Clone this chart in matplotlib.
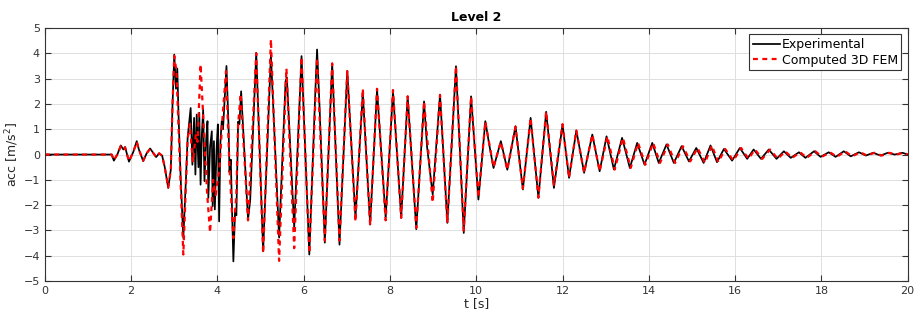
import matplotlib
matplotlib.use("Agg")
import matplotlib.pyplot as plt

# ---- Data (extrema of the time histories) ----
exp_t = [0.00, 1.55, 1.60, 1.68, 1.76, 1.82, 1.86, 1.95, 2.05, 2.13, 2.18, 2.28, 2.36, 2.44, 2.52,
         2.58, 2.65, 2.72, 2.78, 2.86, 2.92, 2.96, 3.00, 3.04, 3.07, 3.10, 3.15, 3.21, 3.27,
         3.31, 3.38, 3.42, 3.46, 3.49, 3.52, 3.56, 3.58, 3.61, 3.64, 3.67, 3.70, 3.74, 3.77,
         3.79, 3.83, 3.87, 3.89, 3.92, 3.94, 3.98, 4.01, 4.04, 4.07, 4.10, 4.13, 4.21, 4.26,
         4.28, 4.31, 4.37, 4.41, 4.44, 4.48, 4.51, 4.55, 4.71, 4.76, 4.90, 5.06, 5.24, 5.43,
         5.58, 5.61, 5.78, 5.95, 6.13, 6.27, 6.31, 6.36, 6.49, 6.66, 6.83, 7.01, 7.20, 7.37,
         7.54, 7.70, 7.90, 8.07, 8.26, 8.41, 8.61, 8.79, 8.86, 8.99, 9.16, 9.33, 9.53, 9.71,
         9.88, 10.05, 10.21, 10.30, 10.40, 10.57, 10.72, 10.91, 11.08, 11.26, 11.44, 11.62,
         11.80, 12.00, 12.15, 12.32, 12.50, 12.69, 12.86, 13.02, 13.19, 13.38, 13.56, 13.73,
         13.90, 14.08, 14.23, 14.41, 14.58, 14.76, 14.93, 15.10, 15.27, 15.43, 15.58, 15.74,
         15.93, 16.11, 16.28, 16.43, 16.60, 16.78, 16.96, 17.13, 17.29, 17.48, 17.63, 17.83,
         17.98, 18.17, 18.33, 18.52, 18.68, 18.87, 19.03, 19.20, 19.37, 19.54, 19.70, 19.88,
         20.00]
exp_a = [0.00, 0.00, -0.24, 0.00, 0.36, 0.20, 0.30, -0.28, 0.10, 0.53, 0.20, -0.26, 0.05, 0.24, 0.05,
         -0.10, 0.05, -0.05, -0.50, -1.32, -0.60, 2.00, 3.95, 2.60, 3.40, 1.50, -1.00, -3.30, -1.00,
         0.67, 1.84, -0.40, 1.45, -0.79, 1.58, -0.50, 1.65, -1.19, 0.80, 1.78, -1.05, 0.60, 1.32,
         -1.71, 0.30, 0.92, -2.04, 0.53, -2.17, 0.20, 1.19, -2.64, 0.50, 1.32, 1.00, 3.50, 1.00,
         -0.70, -0.20, -4.22, -2.20, -2.40, 1.30, 1.20, 2.50, -2.57, -1.80, 4.02, -3.82, 3.95, -3.28,
         2.90, 3.04, -2.88, 3.89, -3.95, 2.50, 4.15, 2.20, -3.48, 3.60, -3.56, 3.30, -2.50, 2.44,
         -2.77, 2.57, -2.50, 2.50, -2.50, 2.30, -2.95, 2.10, 0.30, -1.58, 2.37, -2.70, 3.49, -3.10,
         2.30, -1.78, 1.32, 0.40, -0.53, 0.53, -0.60, 1.12, -1.38, 1.45, -1.71, 1.69,
         -1.32, 1.19, -0.92, 0.95, -0.72, 0.79, -0.66, 0.72, -0.59, 0.66, -0.53, 0.46,
         -0.40, 0.46, -0.33, 0.40, -0.33, 0.33, -0.27, 0.26, -0.33, 0.36, -0.30, 0.22,
         -0.24, 0.26, -0.17, 0.20, -0.17, 0.20, -0.17, 0.13, -0.13, 0.09, -0.13, 0.13,
         -0.09, 0.09, -0.09, 0.13, -0.07, 0.09, -0.04, 0.07, -0.04, 0.07, 0.00, 0.07,
         0.00]

fem_t = [0.00, 1.55, 1.60, 1.68, 1.76, 1.82, 1.86, 1.95, 2.05, 2.13, 2.18, 2.28, 2.36, 2.44, 2.52,
         2.58, 2.65, 2.72, 2.78, 2.86, 2.92, 2.96, 3.00, 3.05, 3.10, 3.21, 3.31, 3.36, 3.43,
         3.50, 3.54, 3.61, 3.70, 3.76, 3.83, 3.90, 3.96, 4.05, 4.12, 4.20, 4.28, 4.37, 4.44,
         4.48, 4.54, 4.71, 4.90, 5.06, 5.24, 5.43, 5.60, 5.78, 5.95, 6.13, 6.31, 6.49, 6.66,
         6.83, 7.01, 7.20, 7.37, 7.54, 7.70, 7.90, 8.07, 8.26, 8.41, 8.61, 8.79, 8.99, 9.16,
         9.33, 9.53, 9.71, 9.88, 10.05, 10.21, 10.40, 10.57, 10.72, 10.91, 11.08, 11.26, 11.44,
         11.62, 11.80, 12.00, 12.15, 12.32, 12.50, 12.69, 12.86, 13.04, 13.21, 13.40, 13.58,
         13.75, 13.92, 14.10, 14.26, 14.44, 14.61, 14.79, 14.96, 15.13, 15.30, 15.46, 15.61,
         15.77, 15.96, 16.14, 16.31, 16.46, 16.63, 16.81, 16.99, 17.16, 17.32, 17.51, 17.66,
         17.86, 18.01, 18.20, 18.36, 18.55, 18.71, 18.90, 19.06, 19.23, 19.40, 19.57, 19.73,
         19.91, 20.00]
fem_a = [0.00, 0.00, -0.22, 0.00, 0.33, 0.20, 0.28, -0.26, 0.10, 0.50, 0.20, -0.24, 0.05, 0.22, 0.05,
         -0.10, 0.05, -0.05, -0.50, -1.30, -0.60, 2.00, 3.90, 3.30, 1.00, -3.95, 0.60, 1.20, -0.30,
         0.80, 0.50, 3.56, 0.50, -1.50, -3.08, -1.00, -1.60, -0.50, 1.50, 3.30, -0.50, -3.30, -1.50,
         1.20, 2.40, -2.60, 4.00, -3.90, 4.55, -4.20, 3.40, -3.70, 3.85, -3.90, 3.82, -3.40, 3.60,
         -3.40, 3.30, -2.65, 2.60, -2.80, 2.60, -2.60, 2.55, -2.50, 2.30, -2.90, 2.10, -1.90, 2.35,
         -2.70, 3.50, -3.00, 2.30, -1.70, 1.30, -0.50, 0.50, -0.60, 1.10, -1.35, 1.45, -1.70,
         1.70, -1.20, 1.20, -0.92, 0.95, -0.72, 0.79, -0.66, 0.72, -0.59, 0.66, -0.53,
         0.46, -0.40, 0.46, -0.33, 0.40, -0.33, 0.33, -0.27, 0.26, -0.33, 0.36, -0.30,
         0.22, -0.24, 0.26, -0.17, 0.20, -0.17, 0.20, -0.17, 0.13, -0.13, 0.09, -0.13,
         0.13, -0.09, 0.09, -0.09, 0.13, -0.07, 0.09, -0.04, 0.07, -0.04, 0.07, 0.00,
         0.07, 0.00]

x_ticks = list(range(0, 21, 2))
y_ticks = list(range(-5, 6, 1))

# ---- Figure ----
plt.rcParams['font.family'] = ['DejaVu Sans']
fig = plt.figure(figsize=(9.15, 3.22), dpi=100)
ax = fig.add_axes([0.049, 0.127, 0.943, 0.786])

ax.plot(exp_t, exp_a, color='black', lw=1.25, label='Experimental')
ax.plot(fem_t, fem_a, color='red', lw=1.6, ls=(0, (2.2, 2.0)), label='Computed 3D FEM')

ax.set_xlim(0, 20)
ax.set_ylim(-5, 5)
ax.set_xticks(x_ticks)
ax.set_yticks(y_ticks)
ax.grid(True, color='#dedede', lw=0.7)
ax.set_axisbelow(True)
ax.tick_params(direction='in', top=True, right=True, length=4, width=0.8,
               labelsize=8, colors='#333333')
for s in ax.spines.values():
    s.set_color('#333333')
    s.set_linewidth(0.8)

ax.set_xlabel('t [s]', fontsize=9, color='#262626', labelpad=1)
ax.set_ylabel('acc [m/s$^2$]', fontsize=9, color='#262626', labelpad=2)
ax.set_title('Level 2', fontsize=9, fontweight='bold', pad=5)

leg = ax.legend(loc='upper right', fontsize=9, frameon=True, fancybox=False,
                edgecolor='#333333', framealpha=1, borderaxespad=0.5,
                handlelength=2.2, handletextpad=0.1, borderpad=0.3, labelspacing=0.2)
leg.get_frame().set_linewidth(0.8)

fig.savefig('out.png', dpi=100)
